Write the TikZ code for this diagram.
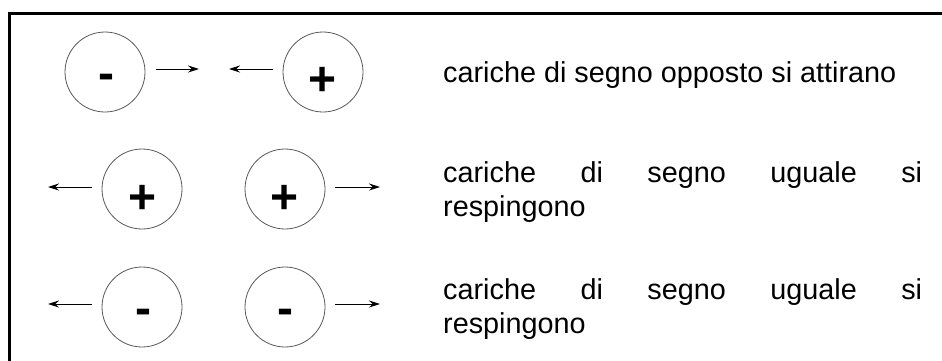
\documentclass[tikz,border=0pt]{standalone}
\usepackage{fontspec}
\setmainfont{Liberation Sans}
\usetikzlibrary{arrows.meta}
\begin{document}
\begin{tikzpicture}[x=1pt,y=-1pt,
  charge/.style={circle,draw=black!65,line width=0.8pt,minimum size=80pt,inner sep=0pt},
  sign/.style={anchor=base,inner sep=0pt,font=\fontsize{48}{48}\selectfont\bfseries},
  arr/.style={line width=1pt,-{Stealth[length=11pt,width=7pt]}},
  caption/.style={anchor=base west,inner sep=0pt,font=\fontsize{28.8}{34}\selectfont},
  frame/.style={line width=3pt,line join=miter,line cap=rect}]
\useasboundingbox (0,0) rectangle (942,360);
\draw[frame] (9,362) -- (9,13) -- (944,13);
% row 1
\node[charge] (c1) at (105,72) {};
\node[charge] (c2) at (323,72) {};
\node[sign] (s1) at (106,89.5) {-};
\node[sign] (s2) at (322.5,95) {+};
\coordinate (t1) at (199,69);
\coordinate (t2) at (229,69);
\draw[arr,shorten <=11pt] (c1.east |- t1) -- (t1);
\draw[arr,shorten <=10pt] (c2.west |- t2) -- (t2);
\node[caption] (l1) at (443,82) {cariche di segno opposto si attirano};
% row 2
\node[charge] (c3) at (142,189) {};
\node[charge] (c4) at (285,189) {};
\node[sign] (s3) at (142.5,213) {+};
\node[sign] (s4) at (285,213) {+};
\coordinate (t3) at (48,187);
\coordinate (t4) at (380,187);
\draw[arr,shorten <=10pt] (c3.west |- t3) -- (t3);
\draw[arr,shorten <=10pt] (c4.east |- t4) -- (t4);
\node[caption] (l2a) at (443,182) {\makebox[479pt][s]{cariche\hfill di\hfill segno\hfill uguale\hfill si}};
\node[caption] (l2b) at (443,216) {respingono};
% row 3
\node[charge] (c5) at (142,307) {};
\node[charge] (c6) at (285,307) {};
\node[sign] (s5) at (143,324.5) {-};
\node[sign] (s6) at (285,324.5) {-};
\coordinate (t5) at (48,304);
\coordinate (t6) at (380,304);
\draw[arr,shorten <=10pt] (c5.west |- t5) -- (t5);
\draw[arr,shorten <=10pt] (c6.east |- t6) -- (t6);
\node[caption] (l3a) at (443,299) {\makebox[479pt][s]{cariche\hfill di\hfill segno\hfill uguale\hfill si}};
\node[caption] (l3b) at (443,333) {respingono};
\end{tikzpicture}
\end{document}
